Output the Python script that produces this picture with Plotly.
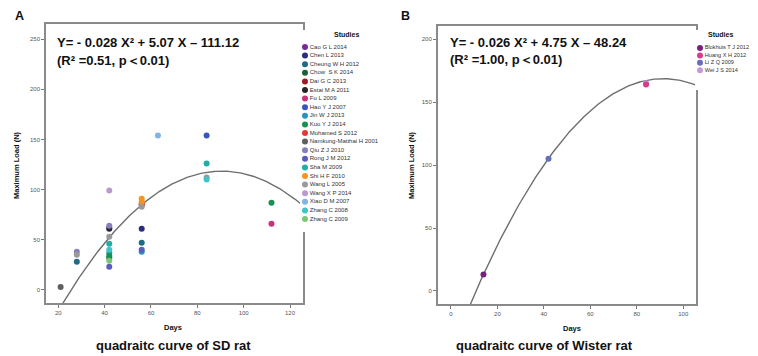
import plotly.graph_objects as go

# ---------------- data ----------------
sd_studies = ["Cao G L 2014", "Chen L 2013", "Cheung W H 2012", "Chow  S K 2014", "Dai G C 2013",
              "Estai M A 2011", "Fu L 2009", "Hao Y J 2007", "Jin W J 2013", "Kuo Y J 2014",
              "Mohamed S 2012", "Namkung-Matthai H 2001", "Qiu Z J 2010", "Rong J M 2012",
              "Sha M 2009", "Shi H F 2010", "Wang L 2005", "Wang X P 2014", "Xiao D M 2007",
              "Zhang C 2008", "Zhang C 2009"]
sd_days = [21, 28, 28, 28, 42, 42, 42, 42, 42, 42, 42, 42, 42, 42, 42, 42,
           56, 56, 56, 56, 56, 56, 56, 56, 56, 63, 84, 84, 84, 84, 112, 112]
sd_load = [3, 38, 35, 28, 99, 62, 64, 61, 53, 46, 40, 37, 34, 32, 29, 23,
           91, 88, 86, 85, 83, 61, 47, 40, 38, 154, 154, 126, 112, 110, 87, 66]
sd_point_study = ["Namkung-Matthai H 2001", "Qiu Z J 2010", "Wang L 2005", "Cheung W H 2012",
                  "Wang X P 2014", "Cao G L 2014", "Qiu Z J 2010", "Estai M A 2011", "Wang L 2005",
                  "Sha M 2009", "Zhang C 2008", "Jin W J 2013", "Kuo Y J 2014", "Chow  S K 2014",
                  "Zhang C 2009", "Rong J M 2012",
                  "Shi H F 2010", "Shi H F 2010", "Mohamed S 2012", "Dai G C 2013", "Wang L 2005",
                  "Chen L 2013", "Cheung W H 2012", "Rong J M 2012", "Jin W J 2013",
                  "Xiao D M 2007", "Hao Y J 2007", "Sha M 2009", "Wang L 2005", "Zhang C 2008",
                  "Kuo Y J 2014", "Fu L 2009"]
sd_coef = [-0.028, 5.07, -111.12]

wr_studies = ["Blokhuis T J 2012", "Huang X H 2012", "Li Z Q 2009", "Wei J S 2014"]
wr_days = [14, 42, 84, 84]
wr_load = [13, 105, 165, 164]
wr_point_study = ["Blokhuis T J 2012", "Li Z Q 2009", "Wei J S 2014", "Huang X H 2012"]
wr_coef = [-0.026, 4.75, -48.24]

sd_ticks_x = [20, 40, 60, 80, 100, 120]
sd_ticks_y = [0, 50, 100, 150, 200, 250]
wr_ticks_x = [0, 20, 40, 60, 80, 100]
wr_ticks_y = [0, 50, 100, 150, 200]

# ---------------- styles ----------------
sd_colors = {
    "Cao G L 2014": "#7b2a8f", "Chen L 2013": "#2b2e7e", "Cheung W H 2012": "#1f6a86",
    "Chow  S K 2014": "#1b6236", "Dai G C 2013": "#9b1b22", "Estai M A 2011": "#262626",
    "Fu L 2009": "#c8337e", "Hao Y J 2007": "#3a56b8", "Jin W J 2013": "#2a93b8",
    "Kuo Y J 2014": "#169250", "Mohamed S 2012": "#e53a3a", "Namkung-Matthai H 2001": "#5f5f5f",
    "Qiu Z J 2010": "#8580bd", "Rong J M 2012": "#5b5cc0", "Sha M 2009": "#22ada6",
    "Shi H F 2010": "#f7941d", "Wang L 2005": "#9a9a9a", "Wang X P 2014": "#bb9ad3",
    "Xiao D M 2007": "#82b4e3", "Zhang C 2008": "#3fc4c8", "Zhang C 2009": "#7cc576",
}
wr_colors = {"Blokhuis T J 2012": "#7a1f80", "Huang X H 2012": "#d83c8a",
             "Li Z Q 2009": "#6670b8", "Wei J S 2014": "#c39bd3"}

OFF = 8            # page body margin
W, H = 758 - OFF, 356 - OFF
FONT = "Liberation Sans, Arial, sans-serif"
LINE = "#8a8a8a"


def px_x(p):
    return (p - OFF) / W


def px_y(p):
    return 1 - (p - OFF) / H


fig = go.Figure()


def curve(coef, x0, x1, n=200):
    xs = [x0 + (x1 - x0) * i / (n - 1) for i in range(n)]
    ys = [coef[0] * x * x + coef[1] * x + coef[2] for x in xs]
    return xs, ys


cx, cy = curve(sd_coef, 14, 126)
fig.add_trace(go.Scatter(x=cx, y=cy, mode="lines", line=dict(color="#6e6e6e", width=1.4),
                         xaxis="x", yaxis="y", showlegend=False, hoverinfo="skip"))
cx2, cy2 = curve(wr_coef, -6, 106)
fig.add_trace(go.Scatter(x=cx2, y=cy2, mode="lines", line=dict(color="#6e6e6e", width=1.4),
                         xaxis="x2", yaxis="y2", showlegend=False, hoverinfo="skip"))

for s in sd_studies:
    xs = [d for d, st in zip(sd_days, sd_point_study) if st == s]
    ys = [v for v, st in zip(sd_load, sd_point_study) if st == s]
    fig.add_trace(go.Scatter(x=xs, y=ys, mode="markers", name=s, showlegend=False,
                             marker=dict(color=sd_colors[s], size=6),
                             xaxis="x", yaxis="y"))
for s in ["Blokhuis T J 2012", "Li Z Q 2009", "Wei J S 2014", "Huang X H 2012"]:
    xs = [d for d, st in zip(wr_days, wr_point_study) if st == s]
    ys = [v for v, st in zip(wr_load, wr_point_study) if st == s]
    fig.add_trace(go.Scatter(x=xs, y=ys, mode="markers", name=s, showlegend=False,
                             marker=dict(color=wr_colors[s], size=6),
                             xaxis="x2", yaxis="y2"))

# custom legends (plotly's own legend cannot be this compact)
fig.add_trace(go.Scatter(x=[5] * len(sd_studies), y=list(range(len(sd_studies))),
                         mode="markers+text", text=sd_studies, textposition="middle right",
                         textfont=dict(size=6, color="#333", family=FONT),
                         marker=dict(color=[sd_colors[s] for s in sd_studies], size=6),
                         cliponaxis=False, showlegend=False, hoverinfo="skip",
                         xaxis="x3", yaxis="y3"))
fig.add_trace(go.Scatter(x=[5] * len(wr_studies), y=list(range(len(wr_studies))),
                         mode="markers+text", text=wr_studies, textposition="middle right",
                         textfont=dict(size=5.6, color="#333", family=FONT),
                         marker=dict(color=[wr_colors[s] for s in wr_studies], size=6),
                         cliponaxis=False, showlegend=False, hoverinfo="skip",
                         xaxis="x4", yaxis="y4"))

axis_common = dict(showgrid=False, zeroline=False, showline=True, mirror=True,
                   linecolor=LINE, linewidth=1.5, ticks="outside", ticklen=3,
                   tickcolor="#777", tickwidth=1, tickfont=dict(size=6, color="#555", family=FONT))

L_top, L_bot, L_first, L_step = 30, 232, 47, 8.6
l_r0 = -(L_first - L_top) / L_step
l_r1 = l_r0 + (L_bot - L_top) / L_step
R_top, R_bot, R_first, R_step = 30, 90, 48, 7.4
r_r0 = -(R_first - R_top) / R_step
r_r1 = r_r0 + (R_bot - R_top) / R_step

fig.update_layout(
    width=W, height=H, margin=dict(l=0, r=0, t=0, b=0),
    paper_bgcolor="white", plot_bgcolor="white",
    font=dict(family=FONT),
    xaxis=dict(domain=[px_x(46), px_x(303)], range=[14.7, 125.6], tickvals=sd_ticks_x,
               anchor="y", **axis_common),
    yaxis=dict(domain=[px_y(303), px_y(24)], range=[-13, 265], tickvals=sd_ticks_y,
               anchor="x", **axis_common),
    xaxis2=dict(domain=[px_x(437.7), px_x(696)], range=[-5.7, 105.5], tickvals=wr_ticks_x,
                anchor="y2", **axis_common),
    yaxis2=dict(domain=[px_y(304.3), px_y(25.7)], range=[-10.6, 210.8], tickvals=wr_ticks_y,
                anchor="x2", **axis_common),
    xaxis3=dict(domain=[px_x(300), px_x(400)], range=[0, 100], visible=False, anchor="y3"),
    yaxis3=dict(domain=[px_y(L_bot), px_y(L_top)], range=[l_r1, l_r0], visible=False, anchor="x3"),
    xaxis4=dict(domain=[px_x(695), px_x(758)], range=[0, 63], visible=False, anchor="y4"),
    yaxis4=dict(domain=[px_y(R_bot), px_y(R_top)], range=[r_r1, r_r0], visible=False, anchor="x4"),
)

ann = []


def add_text(text, x, y, size, xanchor="center", bold=True, angle=0, color="#111"):
    ann.append(dict(text=("<b>%s</b>" % text) if bold else text, x=px_x(x), y=px_y(y),
                    xref="paper", yref="paper", xanchor=xanchor, yanchor="middle",
                    showarrow=False, textangle=angle,
                    font=dict(size=size, color=color, family=FONT)))


add_text("A", 19, 16, 12.5)
add_text("B", 405, 16, 12.5)
add_text("Y= - 0.028 X² + 5.07 X – 111.12", 55, 42, 13, xanchor="left")
add_text("(R² =0.51, p＜0.01)", 55, 60, 13, xanchor="left")
add_text("Y= - 0.026 X² + 4.75 X – 48.24", 448, 42, 13, xanchor="left")
add_text("(R² =1.00, p＜0.01)", 448, 59, 13, xanchor="left")
add_text("Maximum Load (N)", 17, 165, 7.5, angle=-90)
add_text("Maximum Load (N)", 412, 165, 7.5, angle=-90)
add_text("Days", 173, 327, 7.5)
add_text("Days", 572, 328, 7.5)
add_text("quadraitc curve of SD rat", 173, 345, 13)
add_text("quadraitc curve of Wister rat", 544, 345, 13)
add_text("Studies", 346, 35, 7)
add_text("Studies", 720, 35, 7)
fig.update_layout(annotations=ann)

fig.write_html("out.html")
